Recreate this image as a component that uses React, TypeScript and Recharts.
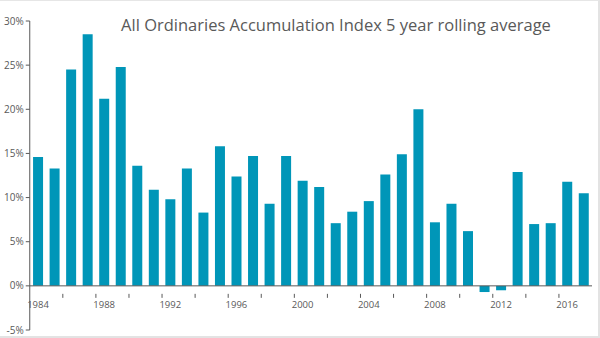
import React from "react";
import { BarChart, Bar, XAxis, YAxis, ReferenceLine } from "recharts";

const years = [
  1984, 1985, 1986, 1987, 1988, 1989, 1990, 1991, 1992, 1993, 1994, 1995,
  1996, 1997, 1998, 1999, 2000, 2001, 2002, 2003, 2004, 2005, 2006, 2007,
  2008, 2009, 2010, 2011, 2012, 2013, 2014, 2015, 2016, 2017,
];
const returns = [
  14.6, 13.3, 24.5, 28.5, 21.2, 24.8, 13.6, 10.9, 9.8, 13.3, 8.3, 15.8,
  12.4, 14.7, 9.3, 14.7, 11.9, 11.2, 7.1, 8.4, 9.6, 12.6, 14.9, 20.0,
  7.2, 9.3, 6.2, -0.7, -0.5, 12.9, 7.0, 7.1, 11.8, 10.5,
];
const yTicks = [-5, 0, 5, 10, 15, 20, 25, 30];
const title = "All Ordinaries Accumulation Index 5 year rolling average";

const data = years.map((y, i) => ({ year: y, value: returns[i] }));

const W = 600;
const H = 338;
const M = { top: 21, right: 8, left: 0, bottom: 7 };
const X_H = 1;
const Y_MIN = -5;
const Y_MAX = 30;
const plotH = H - M.top - M.bottom - X_H;
const zeroOffset = (plotH * (0 - Y_MIN)) / (Y_MAX - Y_MIN);

const GREY = "#595959";
const FONT = "'Open Sans', sans-serif";

const XTick = (props: any) => {
  const { x, y, payload } = props;
  const year = Number(payload.value);
  const half = payload.offset != null && payload.offset > 0 ? payload.offset : 8.25;
  const y0 = y - zeroOffset;
  return (
    <g>
      {year % 2 === 0 && year !== years[0] ? (
        <line x1={x - half} x2={x - half} y1={y0} y2={y0 + 4} stroke={GREY} strokeWidth={1} />
      ) : null}
      {year % 4 === 0 ? (
        <text x={x} y={y0 + 14} textAnchor="middle" fill={GREY} fontSize={9.5} fontFamily={FONT}>
          {year}
        </text>
      ) : null}
    </g>
  );
};

export default function App() {
  return (
    <div
      style={{
        position: "absolute",
        left: 0,
        top: 0,
        width: W,
        height: H,
        background: "#fff",
        boxSizing: "border-box",
        borderTop: "1px solid #e6e6e6",
        borderRight: "2px solid #e3e3e3",
        borderBottom: "2px solid #e3e3e3",
      }}
    >
      <div
        style={{
          position: "absolute",
          left: 120,
          top: 12,
          width: 432,
          textAlign: "center",
          fontFamily: FONT,
          fontSize: 16.5,
          color: GREY,
          whiteSpace: "nowrap",
        }}
      >
        {title}
      </div>
      <div style={{ position: "absolute", left: 0, top: -1 }}>
        <BarChart width={W} height={H} data={data} margin={M} barCategoryGap="20%">
          <XAxis
            dataKey="year"
            height={X_H}
            axisLine={false}
            tickLine={false}
            interval={0}
            tick={(p: any) => <XTick {...p} />}
          />
          <YAxis
            width={29.75}
            domain={[Y_MIN, Y_MAX]}
            ticks={yTicks}
            tickFormatter={(v: number) => `${v}%`}
            axisLine={{ stroke: GREY }}
            tickLine={{ stroke: GREY }}
            tickSize={4}
            tick={{ fill: GREY, fontSize: 10, fontFamily: FONT }}
            interval={0}
          />
          <ReferenceLine y={0} stroke={GREY} strokeWidth={1} ifOverflow="extendDomain" />
          <Bar dataKey="value" fill="#0096B8" isAnimationActive={false} />
        </BarChart>
      </div>
    </div>
  );
}
